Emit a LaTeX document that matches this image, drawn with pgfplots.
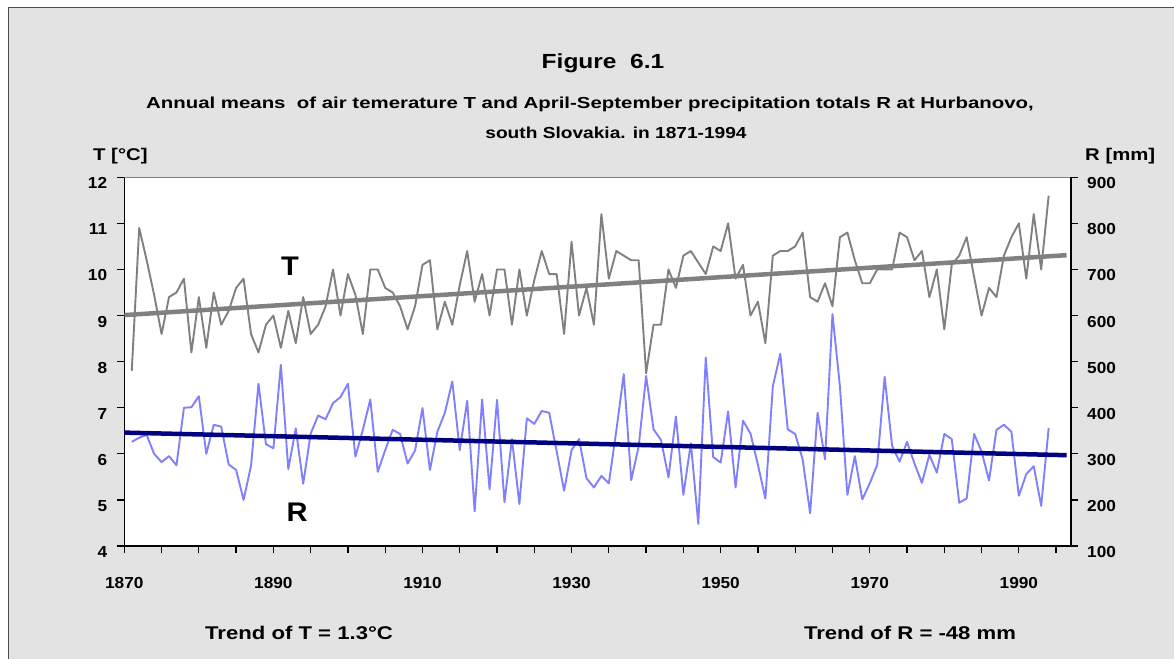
\documentclass[border=0pt]{standalone}
\usepackage{fontspec}
\setmainfont{Liberation Sans}[FakeStretch=1.08]
\newfontfamily\titlefont{Liberation Sans}[FakeStretch=1.2]
\newfontfamily\widefont{Liberation Sans}[FakeStretch=1.28]
\usepackage{pgfplots}
\pgfplotsset{compat=1.18}
\usepackage{pgfplotstable}
\definecolor{bg}{RGB}{227,227,227}
\definecolor{tgray}{RGB}{128,128,128}
\definecolor{rblue}{RGB}{128,128,255}
\definecolor{navy}{RGB}{0,0,128}

\pgfplotstableread{
year T
1871 7.8
1872 10.9
1873 10.2
1874 9.45
1875 8.6
1876 9.4
1877 9.5
1878 9.8
1879 8.2
1880 9.4
1881 8.3
1882 9.5
1883 8.8
1884 9.1
1885 9.6
1886 9.8
1887 8.6
1888 8.2
1889 8.8
1890 9.0
1891 8.3
1892 9.1
1893 8.4
1894 9.4
1895 8.6
1896 8.8
1897 9.2
1898 10.0
1899 9.0
1900 9.9
1901 9.45
1902 8.6
1903 10.0
1904 10.0
1905 9.6
1906 9.5
1907 9.2
1908 8.7
1909 9.2
1910 10.1
1911 10.2
1912 8.7
1913 9.3
1914 8.8
1915 9.66
1916 10.4
1917 9.3
1918 9.9
1919 9.0
1920 10.0
1921 10.0
1922 8.8
1923 10.0
1924 9.0
1925 9.77
1926 10.4
1927 9.9
1928 9.9
1929 8.6
1930 10.6
1931 9.0
1932 9.6
1933 8.8
1934 11.2
1935 9.8
1936 10.4
1937 10.3
1938 10.2
1939 10.2
1940 7.75
1941 8.8
1942 8.8
1943 10.0
1944 9.6
1945 10.3
1946 10.4
1947 10.15
1948 9.9
1949 10.5
1950 10.4
1951 11.0
1952 9.8
1953 10.1
1954 9.0
1955 9.3
1956 8.4
1957 10.3
1958 10.4
1959 10.4
1960 10.5
1961 10.8
1962 9.4
1963 9.3
1964 9.7
1965 9.2
1966 10.7
1967 10.8
1968 10.2
1969 9.7
1970 9.7
1971 10.0
1972 10.0
1973 10.0
1974 10.8
1975 10.7
1976 10.2
1977 10.4
1978 9.4
1979 10.0
1980 8.7
1981 10.1
1982 10.3
1983 10.7
1984 9.84
1985 9.0
1986 9.6
1987 9.4
1988 10.3
1989 10.7
1990 11.0
1991 9.8
1992 11.2
1993 10.0
1994 11.6
}\Tdata

\pgfplotstableread{
year R
1871 326
1872 335
1873 341
1874 300
1875 282
1876 295
1877 275
1878 400
1879 401
1880 425
1881 300
1882 363
1883 359
1884 277
1885 265
1886 200
1887 274
1888 452
1889 321
1890 312
1891 493
1892 267
1893 355
1894 235
1895 344
1896 383
1897 375
1898 410
1899 423
1900 452
1901 294
1902 352
1903 418
1904 261
1905 308
1906 352
1907 343
1908 279
1909 307
1910 399
1911 265
1912 348
1913 389
1914 457
1915 308
1916 415
1917 175
1918 418
1919 223
1920 417
1921 195
1922 332
1923 191
1924 377
1925 365
1926 393
1927 389
1928 305
1929 220
1930 308
1931 332
1932 247
1933 227
1934 252
1935 236
1936 350
1937 473
1938 243
1939 316
1940 469
1941 353
1942 330
1943 249
1944 381
1945 211
1946 323
1947 148
1948 509
1949 293
1950 281
1951 392
1952 227
1953 372
1954 344
1955 276
1956 203
1957 447
1958 517
1959 353
1960 343
1961 288
1962 171
1963 389
1964 288
1965 603
1966 446
1967 211
1968 295
1969 201
1970 236
1971 276
1972 467
1973 317
1974 283
1975 326
1976 279
1977 237
1978 298
1979 259
1980 343
1981 332
1982 194
1983 203
1984 343
1985 305
1986 242
1987 352
1988 363
1989 348
1990 209
1991 256
1992 273
1993 187
1994 356
}\Rdata

\pgfplotsset{
  common/.style={
    at={(124.3bp,113bp)}, anchor=south west, scale only axis,
    width=946.7bp, height=368.7bp,
    xmin=1870, xmax=1997,
    tick align=outside, major tick length=7bp,
    axis line style={line width=1.3bp, black},
    tick style={line width=1.3bp, black},
    tick label style={font=\fontsize{16}{19}\selectfont\bfseries, inner sep=0pt},
    /pgf/number format/assume math mode=true,
    /pgf/number format/1000 sep={},
  }
}

\begin{document}
\begin{tikzpicture}[x=1bp,y=1bp]
\useasboundingbox (0,0) rectangle (1174,659);
\fill[white] (0,0) rectangle (1174,659);
\fill[bg] (8,-5) rectangle (1180,651);
\draw[black!70, line width=1bp] (8,-5) -- (8,651) -- (1180,651);

\begin{axis}[common,
  axis background/.style={fill=white},
  axis x line*=bottom, axis y line*=left,
  ymin=4, ymax=12, ytick={4,5,...,12},
  xtick={1870,1875,...,1995},
  xticklabels={1870,,,,1890,,,,1910,,,,1930,,,,1950,,,,1970,,,,1990,},
  xticklabel style={yshift=-24bp},
  yticklabel style={xshift=-10bp, yshift=-6bp},
]
\draw[tgray, line width=1.3bp] (rel axis cs:0,1) -- (rel axis cs:1,1);
\addplot[tgray, line width=1.9bp, mark=none, line join=round] table[x=year,y=T]{\Tdata};
\addplot[tgray, line width=4.5bp, mark=none] coordinates {(1870,9.01) (1996.4,10.31)};
\end{axis}

\begin{axis}[common,
  axis x line=none, axis y line*=right,
  ymin=100, ymax=900, ytick={100,200,...,900},
  yticklabel style={xshift=9bp, yshift=-6bp},
]
\addplot[rblue, line width=1.9bp, mark=none, line join=round] table[x=year,y=R]{\Rdata};
\addplot[navy, line width=4.5bp, mark=none] coordinates {(1870,346) (1996.4,297)};
\end{axis}

\node[font=\titlefont\fontsize{20.5}{24}\selectfont\bfseries] at (603,596) {Figure\ \ 6.1};
\node[font=\widefont\fontsize{16}{19}\selectfont\bfseries] at (590,555) {Annual means\ \ of air temerature T and April-September precipitation totals R at Hurbanovo,};
\node[font=\titlefont\fontsize{16}{19}\selectfont\bfseries] at (616,526) {south Slovakia. in 1871-1994};
\node[anchor=west, inner sep=0pt, font=\titlefont\fontsize{17}{20}\selectfont\bfseries] at (93,503) {T [°C]};
\node[anchor=west, inner sep=0pt, font=\titlefont\fontsize{17}{20}\selectfont\bfseries] at (1085,503) {R [mm]};
\node[font=\fontsize{27}{30}\selectfont\bfseries] at (290,393) {T};
\node[font=\fontsize{27}{30}\selectfont\bfseries] at (297,147) {R};
\node[anchor=west, inner sep=0pt, font=\titlefont\fontsize{18.5}{21}\selectfont\bfseries] at (205,26) {Trend of T = 1.3°C};
\node[inner sep=0pt, font=\titlefont\fontsize{18.5}{21}\selectfont\bfseries] at (910,26) {Trend of R = -48 mm};
\end{tikzpicture}
\end{document}
